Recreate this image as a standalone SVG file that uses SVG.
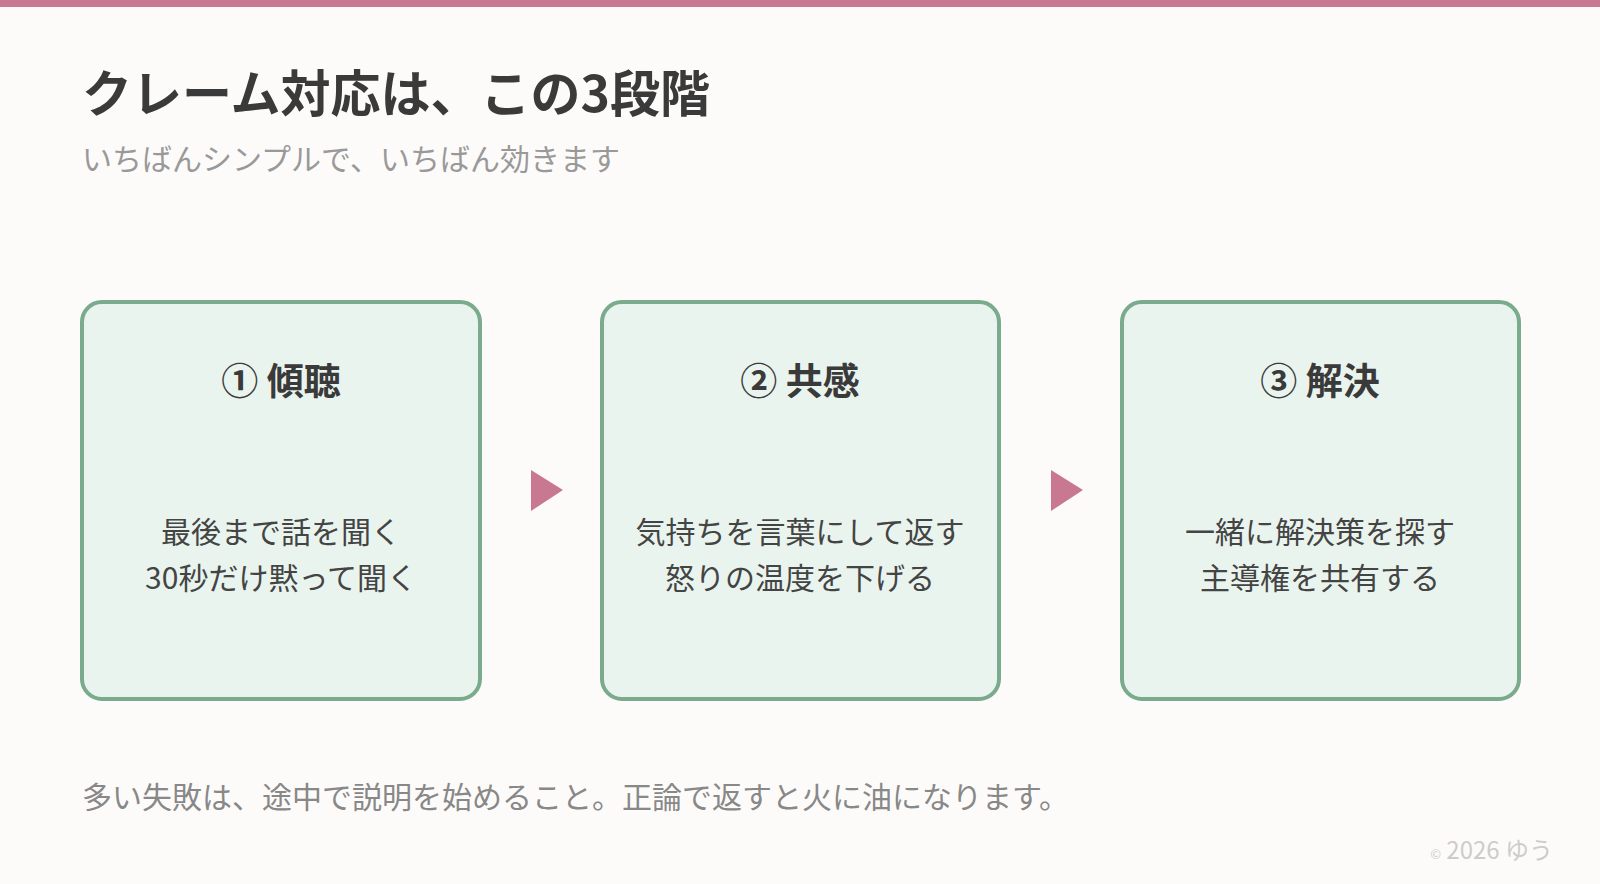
<svg xmlns="http://www.w3.org/2000/svg" width="1600" height="884" viewBox="0 0 1600 884">
<style>
text{font-family:"Noto Sans CJK JP","Noto Sans",sans-serif}
.box{fill:#eaf4ee;stroke:#7aab8c;stroke-width:4}
.h{font-size:37px;font-weight:bold;fill:#3a3a3a;text-anchor:middle}
.b{font-size:30px;fill:#444;text-anchor:middle}
.arr{fill:#c87890}
</style>
<rect width="1600" height="884" fill="#fdfbf9"/>
<rect width="1600" height="7" fill="#c87890"/>
<text x="82" y="112" font-size="50" font-weight="bold" fill="#3a3a3a">クレーム対応は、この3段階</text>
<text x="82" y="170" font-size="30" fill="#999">いちばんシンプルで、いちばん効きます</text>
<g id="node1"><rect class="box" x="82" y="302" width="398" height="397" rx="20"/>
<text class="h" x="281" y="395">① 傾聴</text>
<text class="b" x="281" y="543">最後まで話を聞く</text>
<text class="b" x="281" y="589">30秒だけ黙って聞く</text></g>
<g id="node2"><rect class="box" x="602" y="302" width="397" height="397" rx="20"/>
<text class="h" x="800" y="395">② 共感</text>
<text class="b" x="800" y="543">気持ちを言葉にして返す</text>
<text class="b" x="800" y="589">怒りの温度を下げる</text></g>
<g id="node3"><rect class="box" x="1122" y="302" width="397" height="397" rx="20"/>
<text class="h" x="1320" y="395">③ 解決</text>
<text class="b" x="1320" y="543">一緒に解決策を探す</text>
<text class="b" x="1320" y="589">主導権を共有する</text></g>
<g id="connectors">
<polygon class="arr" points="531,470 563,490 531,511"/>
<polygon class="arr" points="1051,470 1083,490 1051,511"/>
</g>
<text x="82" y="808" font-size="30" fill="#888">多い失敗は、途中で説明を始めること。正論で返すと火に油になります。</text>
<text x="1553" y="859" font-size="24" fill="#ccc" text-anchor="end"><tspan font-size="13">©</tspan> 2026 ゆう</text>
</svg>
